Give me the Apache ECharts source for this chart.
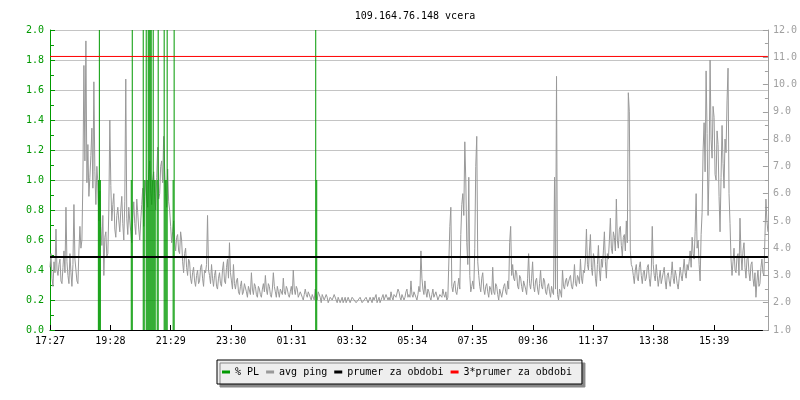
<!DOCTYPE html>
<html>
<head>
<meta charset="utf-8">
<script src="https://cdn.jsdelivr.net/npm/echarts@6/dist/echarts.min.js"></script>
<style>
html,body{margin:0;padding:0;background:#fff;}
#chart{width:800px;height:400px;}
</style>
</head>
<body>
<div id="chart"></div>
<script>
// ---- data ----
const chartTitle = '109.164.76.148 vcera';
const xTickLabels = ['17:27','19:28','21:29','23:30','01:31','03:32','05:34','07:35','09:36','11:37','13:38','15:39'];
const xTickStepMinutes = 121.1;      // spacing of the time ticks
const spanMinutes = 1440;            // 24 h window
const pingStepMinutes = 2;           // one ping value every 2 minutes

// avg ping [ms], right axis
const avgPing = [
  3.3,3.8,2.9,2.6,3.5,3.1,4.7,3.2,3.0,3.4,3.6,2.8,2.7,3.3,3.9,3.1,5.5,3.5,3.0,2.7,
  3.8,3.1,2.6,3.4,5.6,3.6,3.2,2.8,2.7,3.9,4.8,4.0,4.3,6.5,10.7,7.2,11.6,6.4,7.8,5.9,
  6.6,7.4,8.4,6.2,10.1,6.8,5.6,7.0,6.4,5.0,6.1,4.8,4.1,5.2,3.0,4.4,4.6,3.7,3.8,5.4,
  8.7,6.3,5.0,5.6,6.0,4.7,4.4,5.2,5.5,5.0,4.6,5.4,5.9,4.9,4.3,5.7,10.2,5.1,4.5,5.5,
  5.0,4.6,4.2,5.1,5.7,4.9,4.5,5.8,5.3,4.7,4.3,5.0,5.6,6.2,4.8,5.9,6.5,5.8,5.5,6.7,
  7.2,6.1,5.6,6.5,6.8,6.0,5.4,6.6,7.7,5.8,6.0,7.0,7.2,6.4,8.1,6.9,6.0,5.5,6.9,5.7,
  5.4,4.8,4.2,4.6,5.0,4.3,3.9,4.4,4.5,3.9,3.8,4.6,4.3,3.5,3.1,3.8,4.0,3.3,3.0,3.6,
  3.5,2.9,2.7,3.1,3.3,2.8,2.6,3.0,3.2,2.7,2.8,3.3,3.4,2.9,2.6,3.2,3.1,3.4,5.2,3.2,
  3.0,2.7,3.4,2.9,2.6,3.0,3.2,2.6,2.5,2.9,3.1,2.7,2.6,3.2,3.5,2.8,2.7,3.3,3.6,2.9,
  4.2,3.1,2.8,2.5,3.4,2.7,2.5,2.8,2.9,2.4,2.3,2.6,2.8,2.3,2.4,2.7,2.7,2.4,2.2,2.6,
  2.6,2.3,3.1,2.5,2.3,2.7,2.6,2.3,2.2,2.6,2.5,2.3,2.2,2.5,2.7,2.4,3.0,2.5,2.3,2.7,
  2.6,2.3,2.2,2.5,3.1,2.6,2.4,2.2,2.6,2.4,2.2,2.5,2.5,2.3,2.9,2.4,2.3,2.6,2.5,2.3,
  2.2,2.4,2.6,2.3,3.2,2.5,2.3,2.6,2.5,2.2,2.2,2.4,2.4,2.2,2.1,2.3,2.5,2.3,2.2,2.4,
  2.4,2.2,2.1,2.3,2.3,2.1,2.5,2.2,2.1,2.4,2.4,2.2,2.0,2.3,2.3,2.1,2.1,2.3,2.2,2.0,
  2.0,2.2,2.2,2.1,2.1,2.3,2.3,2.1,2.0,2.2,2.2,2.0,2.1,2.2,2.0,2.1,2.2,2.0,2.1,2.2,
  2.1,2.0,2.0,2.2,2.2,2.1,2.1,2.0,2.0,2.1,2.1,2.2,2.2,2.0,2.0,2.1,2.1,2.2,2.1,2.0,
  2.0,2.2,2.1,2.0,2.2,2.1,2.1,2.3,2.0,2.1,2.2,2.0,2.1,2.2,2.3,2.1,2.1,2.3,2.2,2.1,
  2.2,2.1,2.4,2.2,2.1,2.3,2.3,2.2,2.2,2.5,2.4,2.2,2.1,2.3,2.3,2.1,2.2,2.4,2.5,2.2,
  2.3,2.2,2.8,2.3,2.2,2.4,2.4,2.2,2.1,2.3,2.6,2.4,3.9,2.9,2.5,2.3,2.8,2.4,2.2,2.5,
  2.4,2.2,2.1,2.3,2.5,2.2,2.2,2.4,2.4,2.1,2.1,2.3,2.3,2.2,2.5,2.3,2.2,2.4,2.1,2.2,
  2.2,4.8,5.5,2.6,2.4,2.7,2.8,2.4,2.3,2.6,2.9,2.5,4.5,5.6,6.0,5.2,7.9,6.5,4.2,3.4,
  6.6,3.0,2.4,2.6,2.8,2.5,4.0,7.0,8.1,3.5,3.0,2.6,2.4,2.9,3.1,2.5,2.3,2.6,2.7,2.4,
  2.2,2.6,2.5,2.3,3.3,2.4,2.3,2.7,2.6,2.3,2.1,2.5,2.5,2.2,2.2,2.6,2.7,2.4,2.3,2.8,
  2.5,4.2,4.8,3.0,3.4,2.9,2.8,3.2,3.1,2.6,2.5,3.0,2.9,2.6,2.4,2.8,2.8,2.5,2.3,2.9,
  3.8,2.7,2.5,2.9,3.5,2.6,2.4,2.8,2.9,2.5,2.3,2.7,3.2,2.6,2.5,2.9,2.8,2.4,2.3,2.6,
  2.7,2.4,2.2,2.6,2.4,2.3,6.6,2.5,10.3,2.3,2.1,2.5,2.4,2.2,3.2,2.6,2.5,2.8,2.9,2.6,
  2.6,2.9,3.0,2.6,2.5,2.8,3.4,2.7,2.6,3.0,2.9,2.7,3.6,2.9,2.7,3.2,3.1,3.6,4.7,3.4,
  3.2,3.9,4.5,3.3,3.0,3.8,3.6,2.9,2.6,3.4,4.1,3.2,2.8,3.6,3.3,3.9,4.6,3.5,2.9,3.8,
  3.6,4.3,5.1,4.0,3.8,4.6,4.4,3.9,5.8,4.3,4.0,4.7,4.8,4.1,3.7,4.4,4.5,3.9,5.0,4.2,
  9.7,9.0,3.9,3.4,3.3,3.0,2.7,3.2,3.4,2.9,2.8,3.3,3.5,3.0,2.7,3.1,3.2,2.8,2.9,3.3,
  3.4,2.9,2.6,3.1,4.8,3.4,3.0,2.8,3.4,3.0,2.6,2.9,3.2,2.7,2.7,3.1,3.3,2.8,2.5,3.0,
  3.1,2.8,2.6,3.0,3.5,2.9,2.7,3.2,3.0,2.7,2.5,2.9,3.3,3.0,2.8,3.2,3.6,3.1,2.9,3.4,
  3.2,3.5,3.9,3.3,4.4,3.8,3.6,4.6,6.0,4.0,4.3,3.4,2.8,4.5,5.3,7.6,8.6,6.8,10.5,8.2,
  5.2,6.9,10.9,8.0,7.3,9.2,8.8,6.7,6.5,8.3,7.8,5.9,4.6,6.6,8.5,7.1,6.2,8.0,7.5,9.4,
  10.6,6.0,4.9,3.6,3.0,3.5,4.0,3.2,3.1,3.7,3.8,3.0,5.1,3.8,3.2,3.9,4.2,3.3,2.9,3.6,
  3.7,3.1,2.8,3.4,3.5,2.9,2.6,3.1,2.2,2.8,3.2,2.6,2.7,3.3,3.6,3.1,3.0,4.4,5.8,5.0,
  4.6
];

// packet loss [%], left axis: minute offsets and values
const plMinutes = [97,99,101,163,165,187,189,193,195,197,199,201,203,205,207,209,211,215,217,229,231,233,235,247,249,533,535];
const plValues  = [1.0,2.0,1.0,1.0,2.0,2.0,1.0,2.0,1.0,2.0,2.0,2.0,2.0,1.0,2.0,1.0,1.0,1.0,2.0,2.0,1.0,1.0,2.0,1.0,2.0,2.0,1.0];

const avgOfPeriod = 3.68;     // prumer za obdobi [ms]
const tripleAvg = 11.03;      // 3*prumer za obdobi [ms]

// ---- build ----
const pingData = avgPing.map((v, i) => [i * pingStepMinutes, v]);
const plData = plMinutes.map((m, i) => [m, plValues[i]]);
const tickValues = xTickLabels.map((_, i) => i * xTickStepMinutes);

const FONT = 'DejaVu Sans Mono';
const GREEN = '#009900';
const GRAY = '#a0a0a0';

const chart = echarts.init(document.getElementById('chart'), null, {renderer: 'canvas'});
chart.setOption({
  animation: false,
  backgroundColor: '#ffffff',
  title: {
    text: chartTitle,
    left: 410,
    textAlign: 'center',
    top: 6,
    textStyle: {fontFamily: FONT, fontSize: 10, fontWeight: 'normal', color: '#000'}
  },
  grid: {left: 50, right: 30, top: 30, bottom: 70, containLabel: false},
  legend: {
    left: 217,
    top: 360,
    padding: [7, 10, 7, 5],
    itemGap: 7,
    itemWidth: 8,
    itemHeight: 3,
    icon: 'rect',
    backgroundColor: '#eeeeee',
    borderColor: '#000',
    borderWidth: 1,
    borderRadius: 0,
    shadowColor: '#888',
    shadowBlur: 0,
    shadowOffsetX: 3,
    shadowOffsetY: 3,
    textStyle: {fontFamily: FONT, fontSize: 10, color: '#000'},
    data: ['% PL', 'avg ping', 'prumer za obdobi', '3*prumer za obdobi']
  },
  xAxis: {
    type: 'value',
    min: 0,
    max: spanMinutes,
    axisLine: {show: true, onZero: false, lineStyle: {color: '#000', width: 1}},
    axisTick: {show: true, inside: true, length: 5, customValues: tickValues, lineStyle: {color: '#000'}},
    axisLabel: {
      customValues: tickValues,
      margin: 6,
      fontFamily: FONT, fontSize: 10, color: '#000',
      formatter: v => xTickLabels[Math.round(v / xTickStepMinutes)] || ''
    },
    splitLine: {show: false}
  },
  yAxis: [
    {
      type: 'value', min: 0, max: 2, interval: 0.2, position: 'left',
      axisLine: {show: true, lineStyle: {color: GREEN}},
      axisTick: {show: true, inside: true, length: 5, lineStyle: {color: GREEN}},
      minorTick: {show: true, splitNumber: 2, length: 4, lineStyle: {color: GREEN}},
      axisLabel: {margin: 6, fontFamily: FONT, fontSize: 10, color: GREEN, formatter: v => v.toFixed(1)},
      splitLine: {show: true, lineStyle: {color: '#c4c4c4', width: 1}}
    },
    {
      type: 'value', min: 1, max: 12, interval: 1, position: 'right',
      axisLine: {show: true, lineStyle: {color: GRAY}},
      axisTick: {show: true, inside: true, length: 5, lineStyle: {color: GRAY}},
      minorTick: {show: true, splitNumber: 2, length: 3, lineStyle: {color: GRAY}},
      axisLabel: {margin: 5, fontFamily: FONT, fontSize: 10, color: GRAY, formatter: v => v.toFixed(1)},
      splitLine: {show: false}
    }
  ],
  series: [
    {
      name: 'avg ping', type: 'line', yAxisIndex: 1, data: pingData,
      showSymbol: false, symbol: 'none', z: 2,
      lineStyle: {color: '#999999', width: 1}, itemStyle: {color: '#999999'}
    },
    {
      name: '% PL', type: 'bar', yAxisIndex: 0, data: plData,
      barWidth: 1, z: 3, itemStyle: {color: GREEN}
    },
    {
      name: 'prumer za obdobi', type: 'line', yAxisIndex: 1,
      data: [[0, avgOfPeriod], [spanMinutes, avgOfPeriod]],
      showSymbol: false, symbol: 'none', z: 4,
      lineStyle: {color: '#000', width: 2}, itemStyle: {color: '#000'}
    },
    {
      name: '3*prumer za obdobi', type: 'line', yAxisIndex: 1,
      data: [[0, tripleAvg], [spanMinutes, tripleAvg]],
      showSymbol: false, symbol: 'none', z: 4,
      lineStyle: {color: '#ff0000', width: 1}, itemStyle: {color: '#ff0000'}
    }
  ]
});
</script>
</body>
</html>
